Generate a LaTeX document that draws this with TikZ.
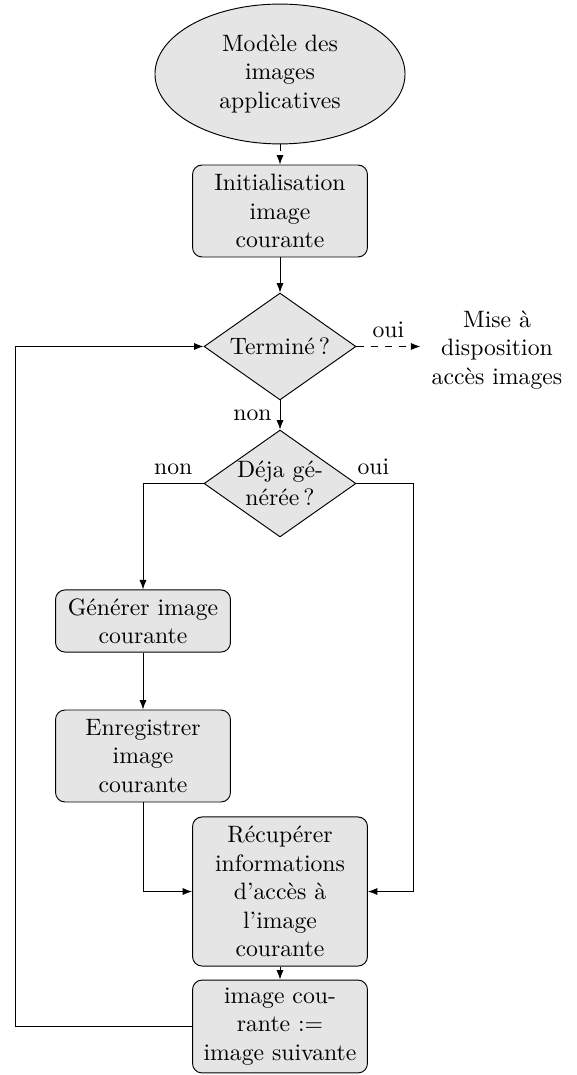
\documentclass[tikz,border=0pt]{standalone}
\usetikzlibrary{shapes.geometric,arrows.meta}
\begin{document}
\begin{tikzpicture}[x=0.4219pt,y=-0.4219pt,
 box/.style={draw,rounded corners=4pt,fill=black!10,align=center,minimum width=73.8pt,inner sep=2pt},
 dec/.style={draw,diamond,fill=black!10,align=center,minimum width=64.1pt,minimum height=45.1pt,inner sep=0pt,aspect=1.42},
 arr/.style={-{Latex[length=4pt,width=3pt]}}
]
\useasboundingbox (0,0) rectangle (576,1075);
\node[draw,ellipse,fill=black!10,align=center,minimum width=105.5pt,minimum height=59pt,inner sep=0pt] (model) at (280,74) {Modèle des\\images\\applicatives};
\node[box,minimum height=38.8pt] (init) at (280,211) {Initialisation\\image\\courante};
\node[dec] (d1) at (280,346.5) {Terminé\,?};
\node[align=center,inner sep=4.6pt] (mise) at (497,350) {Mise à\\disposition\\accès images};
\node[dec] (d2) at (280,483.5) {Déja gé-\\nérée\,?};
\node[box,minimum height=26.2pt] (gen) at (143,621) {Générer image\\courante};
\node[box,minimum height=38.8pt] (enr) at (143,756) {Enregistrer\\image\\courante};
\node[box,minimum height=62.9pt] (recup) at (280,891.5) {Récupérer\\informations\\d’accès à\\l’image\\courante};
\node[box,minimum height=39.2pt] (next) at (280,1026.5) {image cou-\\rante :=\\image suivante};
\coordinate (rightx) at (413,0);
\coordinate (leftx) at (15,0);

\draw[arr,dashed] (model) -- (init);
\draw[arr] (init) -- (d1);
\draw[arr,dashed] (d1.east) -- node[above]{oui} (d1.east -| mise.west);
\draw[arr] (d1) -- node[left]{non} (d2);
\draw[arr] (d2.west) -- node[above]{non} (d2.west -| gen) -- (gen);
\draw[arr] (d2.east) -- node[above,pos=0.3]{oui} (d2.east -| rightx) -- (recup.east -| rightx) -- (recup.east);
\draw[arr] (gen) -- (enr);
\draw[arr] (enr) -- (enr |- recup.west) -- (recup.west);
\draw[arr] (recup) -- (next);
\draw[arr] (next.west) -- (next.west -| leftx) -- (d1.west -| leftx) -- (d1.west);
\end{tikzpicture}
\end{document}
